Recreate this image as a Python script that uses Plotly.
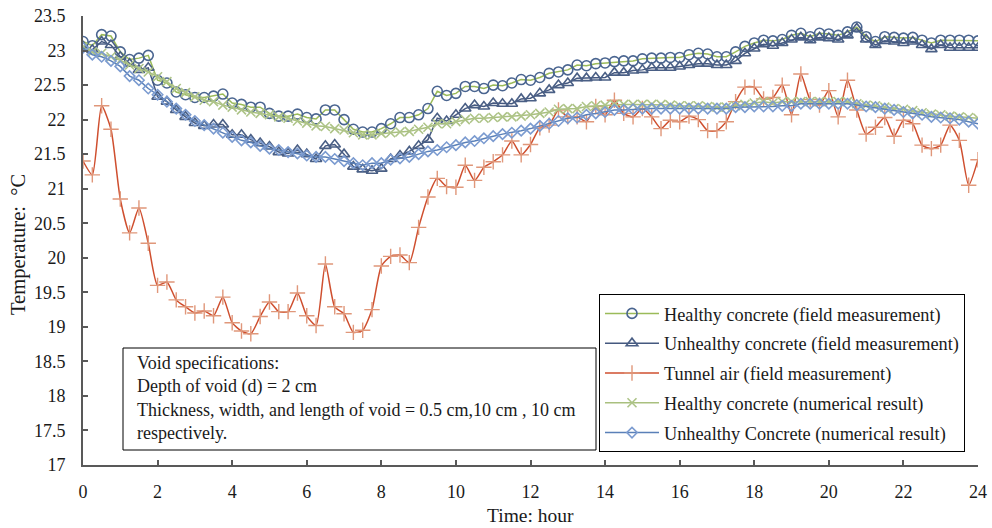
import numpy as np
import plotly.graph_objects as go

# 15-minute sampling over one day
hours = np.arange(0, 24.001, 0.25)

healthy_field = [
    23.13, 23.07, 23.23, 23.21, 22.98, 22.87, 22.89, 22.93,
    22.57, 22.53, 22.40, 22.36, 22.32, 22.32, 22.34, 22.37,
    22.24, 22.22, 22.18, 22.18, 22.09, 22.05, 22.05, 22.08,
    22.03, 22.01, 22.14, 22.14, 22.00, 21.86, 21.82, 21.82,
    21.87, 21.94, 22.03, 22.03, 22.07, 22.16, 22.41, 22.35,
    22.38, 22.48, 22.48, 22.45, 22.50, 22.49, 22.53, 22.58,
    22.57, 22.61, 22.67, 22.69, 22.72, 22.79, 22.78, 22.81,
    22.82, 22.84, 22.85, 22.85, 22.88, 22.89, 22.89, 22.90,
    22.90, 22.94, 22.96, 22.95, 22.91, 22.91, 22.98, 23.06,
    23.11, 23.15, 23.14, 23.16, 23.22, 23.25, 23.20, 23.25,
    23.24, 23.22, 23.27, 23.34, 23.20, 23.13, 23.20, 23.19,
    23.18, 23.19, 23.15, 23.11, 23.15, 23.15, 23.15, 23.15,
    23.14,
]

unhealthy_field = [
    23.06, 23.01, 23.13, 23.08, 22.91, 22.81, 22.72, 22.75,
    22.33, 22.26, 22.14, 22.04, 21.95, 21.91, 21.93, 21.93,
    21.78, 21.78, 21.71, 21.66, 21.61, 21.53, 21.51, 21.56,
    21.50, 21.43, 21.62, 21.64, 21.50, 21.32, 21.28, 21.26,
    21.29, 21.43, 21.48, 21.54, 21.62, 21.71, 22.02, 21.98,
    22.07, 22.16, 22.21, 22.19, 22.24, 22.23, 22.23, 22.30,
    22.31, 22.38, 22.43, 22.50, 22.53, 22.60, 22.60, 22.61,
    22.61, 22.68, 22.68, 22.71, 22.72, 22.75, 22.75, 22.75,
    22.77, 22.79, 22.81, 22.81, 22.79, 22.79, 22.85, 22.96,
    23.03, 23.09, 23.07, 23.11, 23.16, 23.19, 23.15, 23.19,
    23.18, 23.16, 23.22, 23.32, 23.16, 23.08, 23.14, 23.13,
    23.11, 23.13, 23.08, 23.02, 23.08, 23.04, 23.04, 23.04,
    23.04,
]

tunnel_air = [
    21.40, 21.20, 22.20, 21.86, 20.85, 20.36, 20.72, 20.21,
    19.60, 19.65, 19.39, 19.29, 19.20, 19.23, 19.16, 19.43,
    19.06, 18.94, 18.90, 19.15, 19.36, 19.22, 19.22, 19.49,
    19.16, 19.02, 19.91, 19.29, 19.19, 18.92, 18.95, 19.25,
    19.88, 20.02, 20.04, 19.93, 20.44, 20.88, 21.15, 21.03,
    21.02, 21.34, 21.12, 21.31, 21.39, 21.49, 21.69, 21.49,
    21.64, 21.88, 21.92, 22.14, 22.04, 22.04, 21.97, 22.19,
    22.07, 22.28, 22.09, 22.04, 22.16, 22.04, 21.87, 21.99,
    21.97, 22.05, 22.00, 21.84, 21.84, 21.97, 22.26, 22.47,
    22.47, 22.30, 22.32, 22.50, 22.07, 22.66, 22.29, 22.21,
    22.42, 22.04, 22.57, 22.14, 21.79, 21.89, 22.03, 21.76,
    21.99, 21.94, 21.63, 21.58, 21.63, 21.92, 21.70, 21.05,
    21.42,
]

healthy_num = [
    23.05, 22.98, 22.96, 22.91, 22.86, 22.79, 22.74, 22.69,
    22.62, 22.55, 22.45, 22.39, 22.33, 22.28, 22.26, 22.21,
    22.18, 22.14, 22.11, 22.09, 22.07, 22.04, 22.02, 21.98,
    21.95, 21.91, 21.90, 21.87, 21.85, 21.81, 21.78, 21.78,
    21.80, 21.81, 21.82, 21.83, 21.86, 21.89, 21.94, 21.94,
    21.97, 22.00, 22.02, 22.02, 22.03, 22.04, 22.04, 22.05,
    22.07, 22.09, 22.11, 22.15, 22.16, 22.16, 22.19, 22.20,
    22.21, 22.22, 22.22, 22.22, 22.22, 22.22, 22.22, 22.21,
    22.20, 22.20, 22.20, 22.19, 22.18, 22.18, 22.20, 22.22,
    22.24, 22.26, 22.24, 22.26, 22.26, 22.26, 22.26, 22.26,
    22.26, 22.26, 22.26, 22.23, 22.21, 22.20, 22.18, 22.16,
    22.15, 22.13, 22.10, 22.08, 22.07, 22.05, 22.04, 22.03,
    22.02,
]

unhealthy_num = [
    23.04, 22.94, 22.91, 22.85, 22.77, 22.63, 22.57, 22.45,
    22.36, 22.26, 22.16, 22.07, 21.98, 21.92, 21.87, 21.81,
    21.75, 21.70, 21.67, 21.62, 21.58, 21.56, 21.53, 21.51,
    21.48, 21.46, 21.46, 21.43, 21.40, 21.37, 21.34, 21.37,
    21.37, 21.42, 21.44, 21.46, 21.50, 21.54, 21.56, 21.60,
    21.63, 21.67, 21.69, 21.73, 21.76, 21.79, 21.81, 21.84,
    21.87, 21.91, 21.94, 21.98, 22.02, 22.03, 22.07, 22.09,
    22.11, 22.14, 22.14, 22.15, 22.16, 22.16, 22.16, 22.16,
    22.16, 22.16, 22.16, 22.16, 22.16, 22.16, 22.18, 22.18,
    22.19, 22.19, 22.19, 22.20, 22.20, 22.23, 22.23, 22.23,
    22.23, 22.23, 22.23, 22.21, 22.19, 22.18, 22.16, 22.14,
    22.11, 22.09, 22.07, 22.04, 22.03, 22.02, 22.00, 21.97,
    21.94,
]

series_names = [
    "Healthy concrete (field measurement)",
    "Unhealthy concrete (field measurement)",
    "Tunnel air (field measurement)",
    "Healthy concrete (numerical result)",
    "Unhealthy Concrete (numerical result)",
]

note_lines = [
    "Void specifications:",
    "Depth of void (d) = 2 cm",
    "Thickness, width, and length of void = 0.5 cm,10 cm , 10 cm",
    "respectively.",
]

FONT = "Liberation Serif, Times New Roman, serif"
AXIS = "#595959"
TXT = "#1a1a1a"
FS = 18

styles = [
    dict(line=dict(color="#9bbb59", width=1.5),
         marker=dict(symbol="circle-open", size=10, color="#4a6590",
                     line=dict(width=1.6, color="#4a6590"))),
    dict(line=dict(color="#44587f", width=1.5),
         marker=dict(symbol="triangle-up-open", size=10, color="#4a5f85",
                     line=dict(width=1.6, color="#4a5f85"))),
    dict(line=dict(color="#cf4f2f", width=1.5, shape="spline", smoothing=0.6),
         marker=dict(symbol="cross-thin-open", size=11, color="#e0977a",
                     line=dict(width=1.4, color="#e0977a"))),
    dict(line=dict(color="#a9c07f", width=1.5),
         marker=dict(symbol="x-thin-open", size=9, color="#aec488",
                     line=dict(width=1.6, color="#aec488"))),
    dict(line=dict(color="#5a80b8", width=1.5),
         marker=dict(symbol="diamond-open", size=8, color="#7b9bd0",
                     line=dict(width=1.6, color="#7b9bd0"))),
]

values = [healthy_field, unhealthy_field, tunnel_air, healthy_num, unhealthy_num]

fig = go.Figure()
for i, (name, ys, st) in enumerate(zip(series_names, values, styles)):
    fig.add_trace(go.Scatter(
        x=hours, y=ys, name=name, mode="lines+markers",
        legendgroup=f"g{i}", **st,
    ))

# Plot area: x 83..978 px, y 16..465 px
L, R, T, B = 83, 978, 16, 465
W, H = 992, 528


def px_x(p):
    return (p - L) / (R - L)


def px_y(p):
    return (B - p) / (B - T)


# Box around the void description
fig.add_shape(type="rect", xref="paper", yref="paper",
              x0=px_x(123), x1=px_x(596), y0=px_y(450), y1=px_y(348),
              line=dict(color="#000000", width=1), fillcolor="white", layer="above")
fig.add_annotation(xref="paper", yref="paper", x=px_x(135), y=px_y(398),
                   xanchor="left", yanchor="middle", align="left",
                   showarrow=False, text="<br>".join(note_lines),
                   font=dict(family=FONT, size=FS, color=TXT))

# Axis titles
fig.add_annotation(xref="paper", yref="paper", x=0.5, y=px_y(515),
                   xanchor="center", yanchor="middle", showarrow=False,
                   text="Time: hour", font=dict(family=FONT, size=19.5, color=TXT))
fig.add_annotation(xref="paper", yref="paper", x=px_x(18), y=px_y(245),
                   xanchor="center", yanchor="middle", showarrow=False, textangle=-90,
                   text="Temperature:  °C", font=dict(family=FONT, size=20.5, color=TXT))

fig.update_layout(
    width=W, height=H,
    margin=dict(l=L, r=W - R, t=T, b=H - B, autoexpand=False),
    paper_bgcolor="white", plot_bgcolor="white",
    font=dict(family=FONT, size=FS, color=TXT),
    legend=dict(x=px_x(599), y=px_y(294), xanchor="left", yanchor="top",
                bordercolor="#000000", borderwidth=1, bgcolor="white",
                tracegroupgap=3, itemwidth=54,
                font=dict(family=FONT, size=18.3, color=TXT)),
    showlegend=True,
)
fig.update_xaxes(range=[0, 24], dtick=2, tick0=0, showgrid=False, zeroline=False,
                 showline=True, linecolor=AXIS, linewidth=2, automargin=False,
                 ticks="inside", ticklen=5, tickwidth=1.5, tickcolor=AXIS,
                 ticklabelstandoff=9, tickfont=dict(family=FONT, size=FS))
fig.update_yaxes(range=[17, 23.5], dtick=0.5, tick0=17, showgrid=False, zeroline=False,
                 showline=True, linecolor=AXIS, linewidth=2, automargin=False,
                 ticks="inside", ticklen=5, tickwidth=1.5, tickcolor=AXIS,
                 ticklabelstandoff=12, tickfont=dict(family=FONT, size=FS))

fig.write_html("out.html")
